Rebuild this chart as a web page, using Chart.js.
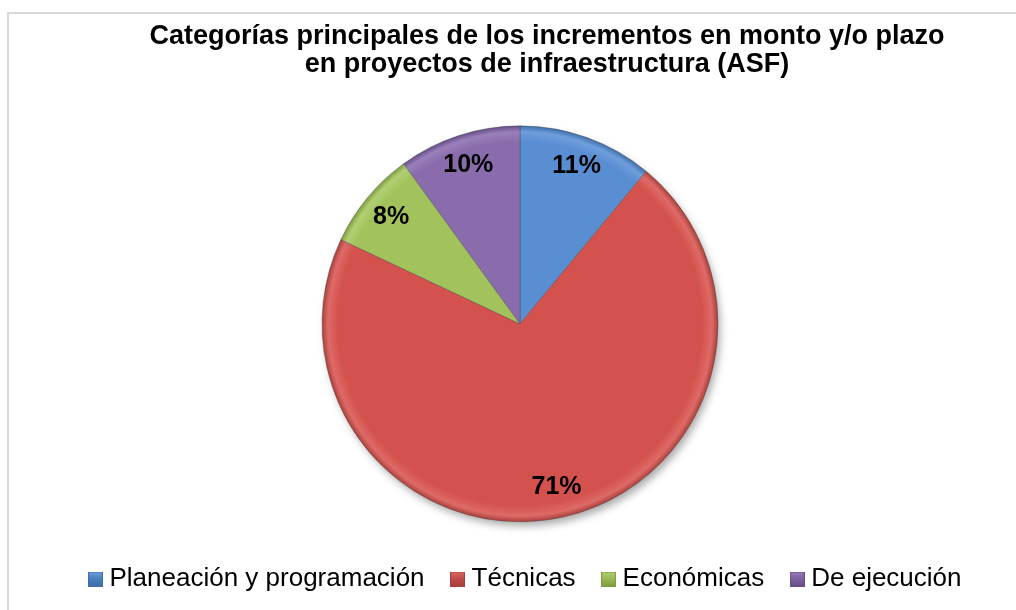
<!DOCTYPE html>
<html>
<head>
<meta charset="utf-8">
<script src="https://cdn.jsdelivr.net/npm/chart.js@4/dist/chart.umd.min.js"></script>
<style>
  html, body { margin: 0; padding: 0; background: #fff; overflow: hidden; }
  #marco { position: absolute; left: 7px; top: 12px; width: 1100px; height: 700px; border: 2px solid #d9d9d9; box-sizing: border-box; }
  #wrap { position: absolute; left: 0; top: 0; width: 1016px; height: 610px; }
</style>
</head>
<body>
<div id="marco"></div>
<div id="wrap"><canvas id="grafica"></canvas></div>
<script>
// Datos
const categorias = ['Planeación y programación', 'Técnicas', 'Económicas', 'De ejecución'];
const porcentajes = [11, 71, 8, 10];
const etiquetas = ['11%', '71%', '8%', '10%'];
const titulo = ['Categorías principales de los incrementos en monto y/o plazo', 'en proyectos de infraestructura (ASF)'];

const coloresBase = ['#5A8ED3', '#D4524E', '#A2C35C', '#8A6CAC'];
const coloresClaros = ['#6F9EDC', '#DE6A66', '#B2CF74', '#9A80BA'];
const coloresOscuros = ['#3F6EAB', '#A8403D', '#7D9B40', '#664D88'];
const coloresLeyenda = ['#4A7EBB', '#BE4B48', '#98B954', '#7D60A0'];

const FUENTE = '"Liberation Sans", Arial, Helvetica, sans-serif';

// marcador cuadrado de la leyenda, con un poco de relieve
function marcador(i) {
  const c = document.createElement('canvas');
  c.width = 15; c.height = 15;
  const m = c.getContext('2d');
  const g = m.createLinearGradient(0, 0, 0, 15);
  g.addColorStop(0, coloresClaros[i]);
  g.addColorStop(0.5, coloresLeyenda[i]);
  g.addColorStop(1, coloresOscuros[i]);
  m.fillStyle = g;
  m.fillRect(0, 0, 15, 15);
  m.strokeStyle = coloresOscuros[i];
  m.strokeRect(0.5, 0.5, 14, 14);
  return c;
}

// sombra bajo el pastel
const sombraPastel = {
  id: 'sombraPastel',
  beforeDatasetsDraw(chart) {
    const arc = chart.getDatasetMeta(0).data[0];
    if (!arc) return;
    const ctx = chart.ctx;
    ctx.save();
    ctx.shadowColor = 'rgba(0,0,0,0.35)';
    ctx.shadowBlur = 9;
    ctx.shadowOffsetX = 3;
    ctx.shadowOffsetY = 5;
    ctx.beginPath();
    ctx.arc(arc.x, arc.y, arc.outerRadius - 1, 0, Math.PI * 2);
    ctx.fillStyle = '#ffffff';
    ctx.fill();
    ctx.restore();
  }
};

// porcentajes dentro de cada rebanada
const etiquetasPastel = {
  id: 'etiquetasPastel',
  afterDatasetsDraw(chart) {
    const ctx = chart.ctx;
    ctx.save();
    ctx.font = 'bold 25px ' + FUENTE;
    ctx.fillStyle = '#000';
    ctx.textAlign = 'center';
    ctx.textBaseline = 'middle';
    chart.getDatasetMeta(0).data.forEach(function(arc, i) {
      const medio = (arc.startAngle + arc.endAngle) / 2;
      const r = arc.outerRadius * 0.845;
      ctx.fillText(etiquetas[i], arc.x + Math.cos(medio) * r, arc.y + Math.sin(medio) * r);
    });
    ctx.restore();
  }
};

// titulo y leyenda van un poco a la derecha del centro del pastel
const moverCajas = {
  id: 'moverCajas',
  afterLayout(chart) {
    if (chart.titleBlock) {
      chart.titleBlock.left += 27;
      chart.titleBlock.right += 27;
    }
    if (chart.legend) {
      chart.legend.left += 8;
      chart.legend.right += 8;
    }
  }
};

function fondoRebanada(context) {
  const i = context.dataIndex;
  const area = context.chart.chartArea;
  if (!area || i === undefined) return coloresBase[i];
  const cx = (area.left + area.right) / 2;
  const cy = (area.top + area.bottom) / 2;
  const g = context.chart.ctx.createRadialGradient(cx, cy, 0, cx, cy, 198);
  g.addColorStop(0, coloresBase[i]);
  g.addColorStop(0.92, coloresBase[i]);
  g.addColorStop(0.97, coloresClaros[i]);
  g.addColorStop(1, coloresOscuros[i]);
  return g;
}

const marcadores = categorias.map(function(c, i) { return marcador(i); });

const ctx = document.getElementById('grafica').getContext('2d');
new Chart(ctx, {
  type: 'pie',
  data: {
    labels: categorias,
    datasets: [{
      data: porcentajes,
      backgroundColor: fondoRebanada,
      borderColor: 'rgba(60,60,60,0.35)',
      borderWidth: 1,
      radius: 198
    }]
  },
  options: {
    responsive: true,
    maintainAspectRatio: false,
    animation: false,
    events: [],
    layout: { padding: { left: 24, right: 0, top: 0, bottom: 8 } },
    plugins: {
      title: {
        display: true,
        text: titulo,
        color: '#000',
        font: { family: FUENTE, size: 27, weight: 'bold', lineHeight: 1.05 },
        padding: { top: 22, bottom: 35 }
      },
      legend: {
        position: 'bottom',
        labels: {
          color: '#000',
          font: { family: FUENTE, size: 26 },
          usePointStyle: true,
          pointStyleWidth: 2,
          boxHeight: 15,
          padding: 32,
          generateLabels: function() {
            return categorias.map(function(c, i) {
              return { text: c, fillStyle: coloresLeyenda[i], strokeStyle: coloresOscuros[i], lineWidth: 0, pointStyle: marcadores[i], hidden: false, index: i };
            });
          }
        }
      },
      tooltip: { enabled: false }
    }
  },
  plugins: [sombraPastel, etiquetasPastel, moverCajas]
});
</script>
</body>
</html>
